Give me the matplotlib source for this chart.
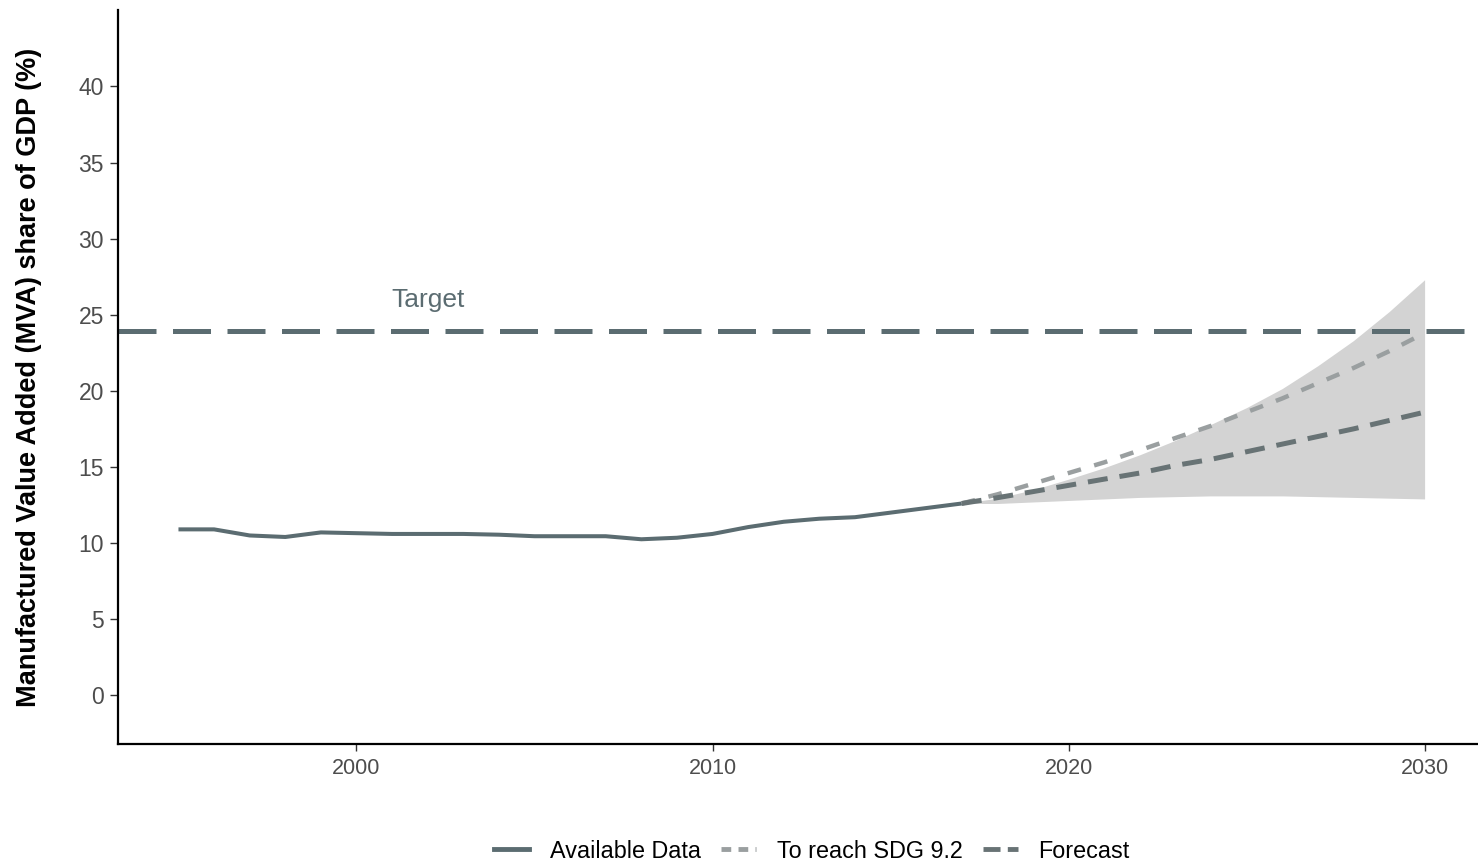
import matplotlib.pyplot as plt
from matplotlib.lines import Line2D

# observed series
years = list(range(1995, 2018))
mva_share = [10.9, 10.9, 10.5, 10.4, 10.7, 10.65, 10.6, 10.6, 10.6, 10.55, 10.45,
             10.45, 10.45, 10.25, 10.35, 10.6, 11.05, 11.4, 11.6, 11.7, 12.0, 12.3, 12.6]

# projections
proj_years = list(range(2017, 2031))
forecast = [12.6, 12.98, 13.38, 13.79, 14.2, 14.6, 15.1, 15.5, 16.0, 16.5, 17.0, 17.5, 18.05, 18.6]
sdg_path = [12.6, 13.2, 13.9, 14.6, 15.3, 16.1, 16.9, 17.7, 18.6, 19.5, 20.5, 21.5, 22.6, 23.8]
band_upper = [12.6, 12.95, 13.5, 14.2, 14.95, 15.8, 16.75, 17.8, 18.9, 20.15, 21.65, 23.3, 25.2, 27.3]
band_lower = [12.6, 12.6, 12.7, 12.8, 12.9, 13.0, 13.05, 13.1, 13.1, 13.1, 13.05, 13.0, 12.95, 12.9]

target = 23.9

x_ticks = [2000, 2010, 2020, 2030]
y_ticks = [0, 5, 10, 15, 20, 25, 30, 35, 40]

main_col = '#5b6c71'
sdg_col = '#9a9fa0'
fc_col = '#687375'

plt.rcParams['font.family'] = ['Liberation Sans', 'DejaVu Sans']

fig = plt.figure(figsize=(14.78, 8.61), dpi=100)
ax = fig.add_axes([0.0798, 0.1359, 0.9202, 0.8521])

ax.fill_between(proj_years, band_lower, band_upper, color='#d3d3d3', linewidth=0)
ax.axhline(target, color=main_col, linewidth=3.6, dashes=(7.6, 3.3))
ax.plot(years, mva_share, color=main_col, linewidth=2.9, solid_capstyle='butt',
        solid_joinstyle='round')
ax.plot(proj_years, sdg_path, color=sdg_col, linewidth=3.2, dashes=(3.1, 3.1))
ax.plot(proj_years, forecast, color=fc_col, linewidth=3.6, dashes=(4.0, 2.4))

ax.text(2002.0, 26.0, 'Target', color=main_col, fontsize=19, ha='center', va='center')

ax.set_xlim(1993.3, 2031.5)
ax.set_ylim(-3.2, 45)
ax.set_xticks(x_ticks)
ax.set_yticks(y_ticks)
ax.tick_params(labelcolor='#4d4d4d', color='#333333', width=1)
ax.tick_params(axis='x', labelsize=15.5, length=5, pad=5)
ax.tick_params(axis='y', labelsize=16.5, length=6, pad=4)

for s in ['top', 'right']:
    ax.spines[s].set_visible(False)
for s in ['left', 'bottom']:
    ax.spines[s].set_linewidth(1.6)
    ax.spines[s].set_color('black')

ax.set_ylabel('Manufactured Value Added (MVA) share of GDP (%)', fontsize=19.5,
              fontweight='bold', labelpad=26)

handles = [
    Line2D([], [], color=main_col, linewidth=3.5),
    Line2D([], [], color=sdg_col, linewidth=3.5, dashes=(2, 1.5)),
    Line2D([], [], color=fc_col, linewidth=3.5, dashes=(3.5, 1.5)),
]
labels = ['Available Data', 'To reach SDG 9.2', 'Forecast']
fig.legend(handles, labels, loc='center', bbox_to_anchor=(812 / 1478, 1 - 851 / 861),
           ncol=3, frameon=False, fontsize=16.8, handlelength=1.5, columnspacing=0.85,
           handletextpad=0.9)

fig.savefig('out.png', dpi=100)
